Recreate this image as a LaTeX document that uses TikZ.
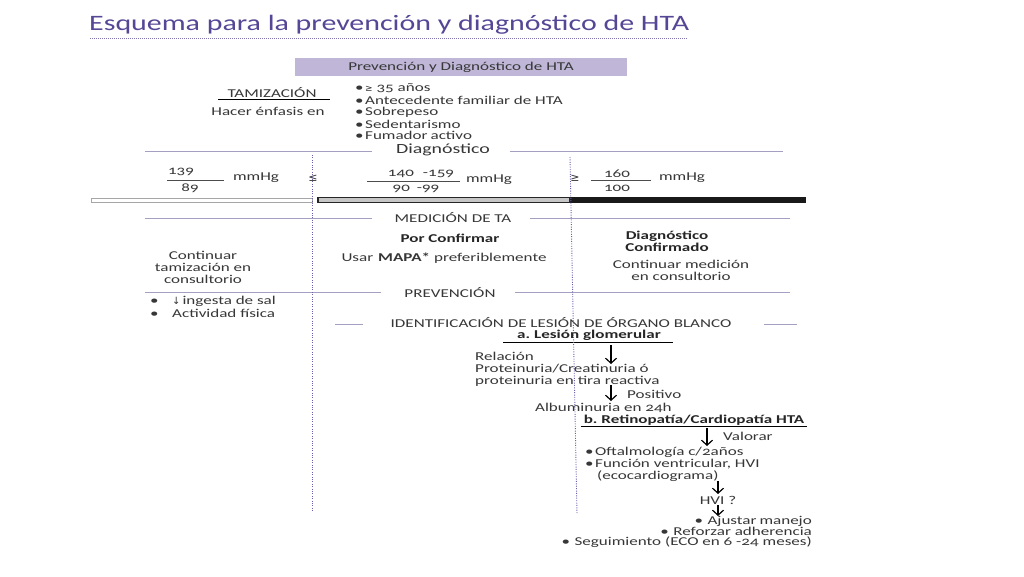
\documentclass[tikz,border=0pt]{standalone}
\usepackage{fontspec}
\setmainfont{Carlito}
\newfontfamily\titlef{Carlito}[FakeStretch=1.36]
\newfontfamily\bodyf{Carlito}[FakeStretch=1.42,Numbers=OldStyle]
\newfontfamily\symf{DejaVu Sans}
\usetikzlibrary{arrows.meta}
\definecolor{titlec}{RGB}{86,70,150}
\definecolor{linec}{RGB}{165,160,195}
\definecolor{boxc}{RGB}{192,182,216}
\definecolor{dotc}{RGB}{105,95,170}
\definecolor{txtc}{RGB}{55,55,55}
\newcommand{\bul}{\makebox[10pt][l]{•}}
\newcommand{\bulw}{\makebox[13pt][l]{•}}
\begin{document}
\begin{tikzpicture}[x=1pt,y=-1pt,
 sm/.style={font=\bodyf\fontsize{12}{12}\selectfont, text=txtc, inner sep=0pt},
 bld/.style={font=\bodyf\bfseries\fontsize{12}{12}\selectfont, text=black!85, inner sep=0pt},
 sech/.style={font=\bodyf\fontsize{12}{12}\selectfont, text=txtc, inner sep=0pt},
 symb/.style={font=\symf\fontsize{11}{11}\selectfont, text=txtc, inner sep=0pt},
 secline/.style={draw=linec, line width=0.9pt},
 dotline/.style={draw=dotc, line width=0.9pt, dash pattern=on 1pt off 1.4pt},
 arr/.style={draw=black, line width=1.2pt, -{Straight Barb[length=5pt,width=11pt]}},
 uline/.style={draw=black, line width=0.9pt},
 fline/.style={draw=black!70, line width=0.8pt}
]
\useasboundingbox (0,0) rectangle (1024,576);
\fill[white] (0,0) rectangle (1024,576);

% title
\node[anchor=base west, font=\titlef\fontsize{22}{22}\selectfont, text=titlec, inner sep=0pt] (title) at (89,30) {Esquema para la prevención y diagnóstico de HTA};
\coordinate (tl) at (90,38); \coordinate (tr) at (688,38);
\draw[draw=titlec!75, line width=1pt, dash pattern=on 1pt off 1pt] (tl) -- (tr);

% header box
\node[fill=boxc, minimum width=332pt, minimum height=18pt, sm] (hdr) at (461,67) {Prevención y Diagnóstico de HTA};

% screening
\node[sm] (tam) at (272,93) {TAMIZACIÓN};
\coordinate (tu1) at (218,99); \coordinate (tu2) at (330,99);
\draw[uline] (tu1) -- (tu2);
\node[sm] (enf) at (268,111) {Hacer énfasis en};
\node[sm, anchor=west] (l1) at (355,88) {\bul{\symf\fontsize{9}{9}\selectfont ≥} 35 años};
\node[sm, anchor=west] (l2) at (355,100) {\bul Antecedente familiar de HTA};
\node[sm, anchor=west] (l3) at (355,112) {\bul Sobrepeso};
\node[sm, anchor=west] (l4) at (355,124) {\bul Sedentarismo};
\node[sm, anchor=west] (l5) at (355,135) {\bul Fumador\hspace{3pt}activo};

% diagnostico
\node[font=\bodyf\fontsize{14}{14}\selectfont, text=txtc, inner sep=0pt] (diag) at (443,150) {Diagnóstico};
\coordinate (d1) at (145,151); \coordinate (d2) at (372,151);
\coordinate (d3) at (510,151); \coordinate (d4) at (783,151);
\draw[secline] (d1) -- (d2) (d3) -- (d4);

\node[sm] (n139) at (181,172) {139};
\coordinate (f1a) at (167,180); \coordinate (f1b) at (224,180);
\draw[fline] (f1a) -- (f1b);
\node[sm] (n89) at (190,188) {89};
\node[sm] (mm1) at (256,178) {mmHg};
\node[symb] (le) at (313,178) {≤};

\node[sm] (n140) at (421,174) {140\hspace{9pt}-159};
\coordinate (f2a) at (367,181); \coordinate (f2b) at (460,181);
\draw[fline] (f2a) -- (f2b);
\node[sm] (n90) at (416,189) {90\hspace{7pt}-99};
\node[sm] (mm2) at (489,180) {mmHg};

\node[symb] (ge) at (575,178) {≥};
\node[sm] (n160) at (617,174) {160};
\coordinate (f3a) at (591,180); \coordinate (f3b) at (651,180);
\draw[fline] (f3a) -- (f3b);
\node[sm] (n100) at (617,188) {100};
\node[sm] (mm3) at (682,178) {mmHg};

% bars
\draw[draw=gray!70, fill=white, line width=0.7pt] (91,198) rectangle (312,202);
\draw[draw=black!85, fill=gray!45, line width=1.2pt] (318,197.5) rectangle (570,202.5);
\fill[black!90] (570,197.3) rectangle (806,202.7);

% medicion
\node[sech] (med) at (453,218) {MEDICIÓN DE TA};
\coordinate (m1) at (145,218); \coordinate (m2) at (372,218);
\coordinate (m3) at (530,218); \coordinate (m4) at (790,218);
\draw[secline] (m1) -- (m2) (m3) -- (m4);
\node[bld] (pc) at (450,238) {Por Confirmar};
\node[sm] (mapa) at (444,258) {Usar\hspace{5pt}\textbf{MAPA*}\hspace{4pt}preferiblemente};
\node[bld, align=center] (dc) at (667,241) {Diagnóstico\\Confirmado};
\node[sm, align=center] (cm) at (681,270) {Continuar medición\\en consultorio};
\node[sm, align=center] (ct) at (203,267) {Continuar\\tamización en\\consultorio};

% prevencion
\node[sech] (prev) at (450,293) {PREVENCIÓN};
\coordinate (p1a) at (145,292); \coordinate (p1b) at (381,292);
\coordinate (p2a) at (515,292); \coordinate (p2b) at (790,292);
\draw[secline] (p1a) -- (p1b) (p2a) -- (p2b);
\node[sm, anchor=west] (pv1) at (150,301) {\makebox[22pt][l]{•}{\symf\fontsize{10}{10}\selectfont ↓}\hspace{2pt}ingesta de sal};
\node[sm, anchor=west] (pv2) at (150,313) {\makebox[22pt][l]{•}Actividad física};

% identificacion
\node[sech] (ident) at (561,323) {IDENTIFICACIÓN DE LESIÓN DE ÓRGANO BLANCO};
\coordinate (i1a) at (335,324); \coordinate (i1b) at (363,324);
\coordinate (i2a) at (764,324); \coordinate (i2b) at (797,324);
\draw[secline] (i1a) -- (i1b) (i2a) -- (i2b);

\node[bld] (la) at (589,335) {a.\hspace{4pt}Lesión glomerular};
\coordinate (au1) at (503,342); \coordinate (au2) at (673,342);
\draw[uline] (au1) -- (au2);
\coordinate (a1s) at (611,345); \coordinate (a1e) at (611,364);
\draw[arr] (a1s) -- (a1e);
\node[sm, anchor=west] (rel1) at (475,356) {Relación};
\node[sm, anchor=west] (rel2) at (475,369) {Proteinuria/Creatinuria ó};
\node[sm, anchor=west] (rel3) at (475,381) {proteinuria en tira reactiva};
\coordinate (a2s) at (611,385); \coordinate (a2e) at (611,401);
\draw[arr] (a2s) -- (a2e);
\node[sm, anchor=west] (pos) at (627,394) {Positivo};
\node[sm, anchor=west] (alb) at (535,408) {Albuminuria en 24h};

\node[bld] (lb) at (694,420) {b.\hspace{4pt}Retinopatía/Cardiopatía HTA};
\coordinate (bu1) at (581,426); \coordinate (bu2) at (807,426);
\draw[uline] (bu1) -- (bu2);
\coordinate (a3s) at (707,428); \coordinate (a3e) at (707,446);
\draw[arr] (a3s) -- (a3e);
\node[sm, anchor=west] (val) at (723,436) {Valorar};
\node[sm, anchor=west] (b1) at (585,452) {\bul Oftalmología c/2años};
\node[sm, anchor=west] (b2) at (585,464) {\bul Función ventricular, HVI};
\node[sm, anchor=west] (b3) at (597,476) {(ecocardiograma)};
\node[sm] (hvi) at (718,500) {HVI ?};
\coordinate (a4s) at (718,481); \coordinate (a4e) at (718,494);
\draw[arr] (a4s) -- (a4e);
\coordinate (a5s) at (718,505); \coordinate (a5e) at (718,516);
\draw[arr] (a5s) -- (a5e);
\node[sm, anchor=east] (r1) at (812,521) {\bulw Ajustar\hspace{3pt}manejo};
\node[sm, anchor=east] (r2) at (812,531) {\bulw Reforzar adherencia};
\node[sm, anchor=east] (r3) at (812,542) {\bulw Seguimiento\hspace{4pt}(ECO en 6 -24\hspace{4pt}meses)};

% dotted dividers
\coordinate (v1a) at (312,155); \coordinate (v1b) at (312,511);
\coordinate (v2a) at (570,157); \coordinate (v2b) at (577,514);
\draw[dotline] (v1a) -- (v1b);
\draw[dotline] (v2a) -- (v2b);
\end{tikzpicture}
\end{document}
